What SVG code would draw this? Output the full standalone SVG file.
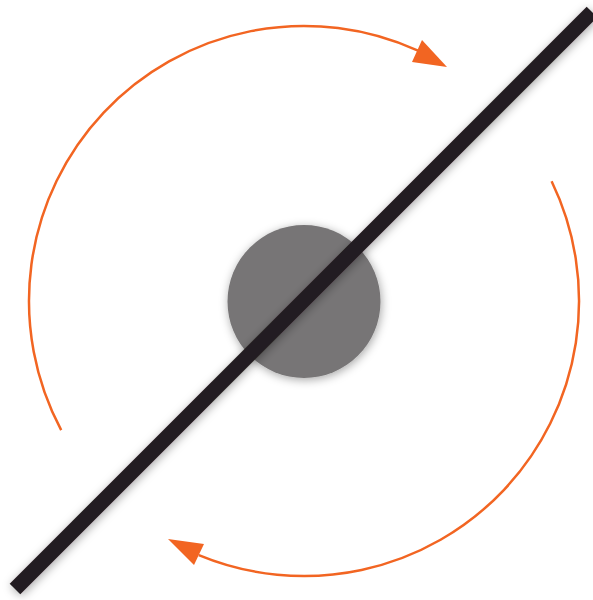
<svg xmlns="http://www.w3.org/2000/svg" width="593" height="600" viewBox="0 0 593 600">
  <defs>
    <style>
      .arc { fill: none; stroke: #F26522; stroke-width: 2.5; }
      .head { fill: #F26522; }
    </style>
    <filter id="sh" x="-20%" y="-20%" width="140%" height="140%">
      <feDropShadow dx="1" dy="2" stdDeviation="5" flood-color="#000" flood-opacity="0.35"/>
    </filter>
  </defs>
  <rect width="593" height="600" fill="#fff"/>
  <g id="connectors">
    <path class="arc" d="M 61.2 430.1 A 275 275 0 0 1 418 50.7"/>
    <polygon class="head" points="447,67 422,40 412,62"/>
    <path class="arc" d="M 551.6 181.3 A 275 275 0 0 1 198.8 555.1"/>
    <polygon class="head" points="168,539 204,544 194,565"/>
  </g>
  <g id="body">
    <circle cx="304" cy="301.5" r="76.5" fill="#777576" filter="url(#sh)"/>
  </g>
  <g id="axis">
    <line x1="15" y1="589" x2="592" y2="12" stroke="#231F20" stroke-width="15" filter="url(#sh)"/>
  </g>
</svg>
